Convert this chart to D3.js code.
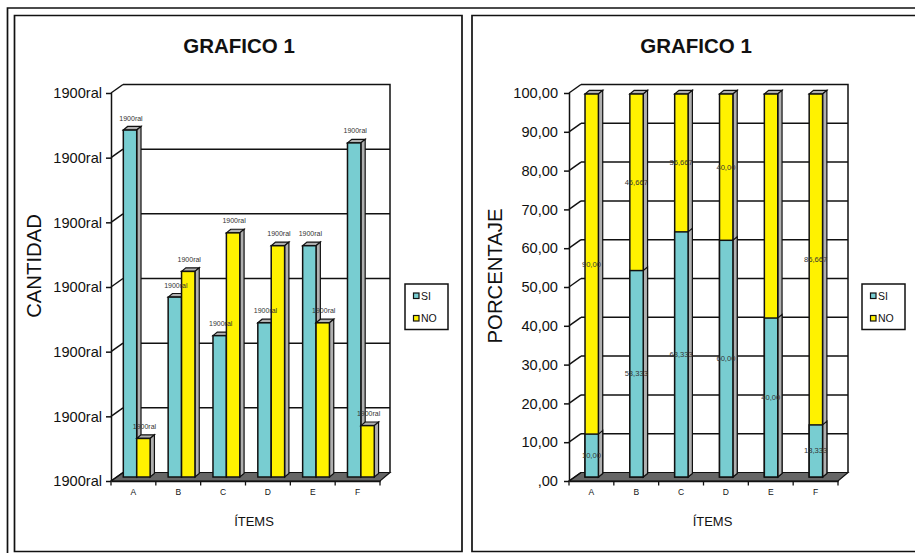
<!DOCTYPE html>
<html><head><meta charset="utf-8">
<script src="https://cdn.jsdelivr.net/npm/d3@7/dist/d3.min.js"></script>
<style>html,body{margin:0;padding:0;background:#fff}svg{display:block}text{font-family:"Liberation Sans",Arial,sans-serif;fill:#111}</style>
</head><body><svg id="c" width="915" height="553"></svg>
<script>
const categories = ["A","B","C","D","E","F"];
const seriesNames = ["SI","NO"];
const seriesColors = ["#78CDD1","#FFF200"];
// left chart: counts
const siCount = [27,14,11,12,18,26];
const noCount = [3,16,19,18,12,4];
const countTicks = [0,5,10,15,20,25,30];
const countTickLabel = "1900ral";
const siPct = [11.2,53.9,64,61.8,41.5,13.6];
const noPct = [88.8,46.1,36,38.2,58.5,86.4];
const siPctLabels = ["10,00","53,333","63,333","60,00","40,00","13,333"];
const noPctLabels = ["90,00","46,667","36,667","40,00","","86,667"];
const pctTicks = [0,10,20,30,40,50,60,70,80,90,100];
const pctTickLabels = [",00","10,00","20,00","30,00","40,00","50,00","60,00","70,00","80,00","90,00","100,00"];

const svg = d3.select("#c");
const INK = "#111";
const DX = 11, DY = 8.5, BD = 4.3;
const SW = 1.5;

// frames
svg.append("path").attr("d","M7.5,553V8H915").attr("fill","none").attr("stroke",INK).attr("stroke-width",1.7);
svg.append("path").attr("d","M14.5,551.5V15.5H462V551.5Z").attr("fill","#fff").attr("stroke",INK).attr("stroke-width",1.7);
svg.append("path").attr("d","M915,15.5H472V551.5H915").attr("fill","#fff").attr("stroke",INK).attr("stroke-width",1.7);

function frame(g, o){
  const {x0,x1,y,tickVals,tickText,pad} = o;
  const front = 481;
  const wallL = x0+DX+1, wallR = x1+DX-1, floorY = front-DY;
  g.append("path").attr("d",`M${wallL},${front-388-8.5}H${wallR}V${floorY}`).attr("fill","none").attr("stroke",INK).attr("stroke-width",SW);
  g.append("path").attr("d",`M${x0},${front}L${wallL},${floorY}H${wallR}L${x1},${front}Z`).attr("fill","#666").attr("stroke",INK).attr("stroke-width",1.2);
  tickVals.forEach(v=>{
    const yy=y(v);
    if(v>0 && v<tickVals[tickVals.length-1]) g.append("line").attr("x1",wallL).attr("x2",wallR).attr("y1",yy-DY).attr("y2",yy-DY).attr("stroke",INK).attr("stroke-width",SW);
    g.append("line").attr("x1",x0).attr("x2",wallL).attr("y1",yy).attr("y2",yy-DY).attr("stroke",INK).attr("stroke-width",SW);
  });
  const axY = d3.axisLeft(y).tickValues(tickVals).tickSize(5).tickPadding(pad).tickFormat((d,i)=>tickText(i));
  const ga = g.append("g").attr("transform",`translate(${x0},0)`).call(axY);
  ga.select(".domain").attr("stroke",INK).attr("stroke-width",SW).attr("d",`M0.5,${y.range()[0]}V${y.range()[1]}`);
  ga.selectAll(".tick line").attr("stroke",INK).attr("stroke-width",SW);
  ga.selectAll("text").attr("font-size",14.6).attr("fill","#111").style("font-family",'"Liberation Sans",Arial,sans-serif');
  const bx = d3.scaleBand().domain(categories).range([x0,x1]);
  const axX = d3.axisBottom(bx).tickSizeOuter(0).tickSize(0).tickPadding(8);
  const gx = g.append("g").attr("transform",`translate(0,${front})`).call(axX);
  gx.select(".domain").attr("stroke",INK).attr("stroke-width",SW);
  gx.selectAll("text").attr("font-size",8.5).attr("fill","#222").style("font-family",'"Liberation Sans",Arial,sans-serif');
  categories.concat("_").forEach((c,i)=>{
    const tx = x0+i*bx.bandwidth();
    g.append("line").attr("x1",tx).attr("x2",tx).attr("y1",front).attr("y2",front+4.5).attr("stroke",INK).attr("stroke-width",1.3);
  });
  return bx;
}

function box(g,x,w,top,bot,fill,cap){
  const h = bot-top;
  const dy = BD-0.7;
  if(cap){
    g.append("path").attr("d",`M${x},${top}l${BD},${-dy}h${w}l${-BD},${dy}Z`).attr("fill","#b0b0b0").attr("stroke",INK).attr("stroke-width",1.2);
  }
  g.append("path").attr("d",`M${x+w},${top}l${BD},${-dy}V${bot-dy}l${-BD},${dy}Z`).attr("fill","#b0b0b0").attr("stroke",INK).attr("stroke-width",1.2);
  g.append("rect").attr("x",x).attr("y",top).attr("width",w).attr("height",h).attr("fill",fill).attr("stroke",INK).attr("stroke-width",SW);
}

function labels(g,title,tx,yTitle,ytx,yty,itx,lx){
  g.append("text").attr("x",tx).attr("y",52.5).attr("text-anchor","middle").attr("font-weight","bold").attr("font-size",20.5).text(title);
  g.append("text").attr("transform",`translate(${ytx},${yty}) rotate(-90)`).attr("text-anchor","middle").attr("font-size",20.3).text(yTitle);
  g.append("text").attr("x",itx).attr("y",525.5).attr("text-anchor","middle").attr("font-size",13).text("ÍTEMS");
  g.append("rect").attr("x",lx).attr("y",284).attr("width",43).attr("height",45.5).attr("fill","#fff").attr("stroke",INK).attr("stroke-width",SW);
  seriesNames.forEach((n,i)=>{
    const yy=295.5+i*22.5;
    g.append("rect").attr("x",lx+8.5).attr("y",yy-2.5).attr("width",5.5).attr("height",5.5).attr("fill",seriesColors[i]).attr("stroke",INK).attr("stroke-width",1.2);
    g.append("text").attr("x",lx+16).attr("y",yy+4).attr("font-size",10.5).text(n);
  });
}

// LEFT
const gL = svg.append("g");
const yL = d3.scaleLinear().domain([0,30]).range([481,93]);
const xL = frame(gL,{x0:111,x1:380,y:yL,tickVals:countTicks,tickText:()=>countTickLabel,pad:4});
const barBase = 477;
const yLB = d3.scaleLinear().domain([0,30]).range([barBase,barBase-385.5]);
const bw = 13.4;
categories.forEach((c,i)=>{
  const cx = xL(c)+xL.bandwidth()/2+3.3;
  box(gL,cx-bw,bw,yLB(siCount[i]),barBase,seriesColors[0],true);
  box(gL,cx,bw,yLB(noCount[i]),barBase,seriesColors[1],true);
});
categories.forEach((c,i)=>{
  const cx = xL(c)+xL.bandwidth()/2+3.3;
  [[siCount[i],cx-bw/2],[noCount[i],cx+bw/2]].forEach(([v,x])=>{
    gL.append("text").attr("x",x+1).attr("y",yLB(v)-9.5).attr("text-anchor","middle").attr("font-size",7).style("fill","#333").text(countTickLabel);
  });
});
labels(gL,"GRAFICO 1",239,"CANTIDAD",41,266,254,405);

// RIGHT
const gR = svg.append("g");
const yR = d3.scaleLinear().domain([0,100]).range([481,93]);
const xR = frame(gR,{x0:569,x1:838,y:yR,tickVals:pctTicks,tickText:i=>pctTickLabels[i],pad:6});
const yRB = d3.scaleLinear().domain([0,100]).range([477,94]);
categories.forEach((c,i)=>{
  const cx = xR(c)+xR.bandwidth()/2;
  const x = cx-bw/2+0.3;
  const top = yRB(siPct[i]+noPct[i]);
  box(gR,x,bw,top,477,seriesColors[1],true);
  box(gR,x,bw,yRB(siPct[i]),477,seriesColors[0],false);
});
categories.forEach((c,i)=>{
  const cx = xR(c)+xR.bandwidth()/2;
  gR.append("text").attr("x",cx).attr("y",yRB(siPct[i]/2)+2.5).attr("text-anchor","middle").attr("font-size",7.6).style("fill","#333").text(siPctLabels[i]);
  if(noPctLabels[i]) gR.append("text").attr("x",cx).attr("y",yRB(siPct[i]+noPct[i]/2)+2.5).attr("text-anchor","middle").attr("font-size",7.6).style("fill","#333").text(noPctLabels[i]);
});
labels(gR,"GRAFICO 1",696,"PORCENTAJE",501.5,276,712.5,862);
</script></body></html>
